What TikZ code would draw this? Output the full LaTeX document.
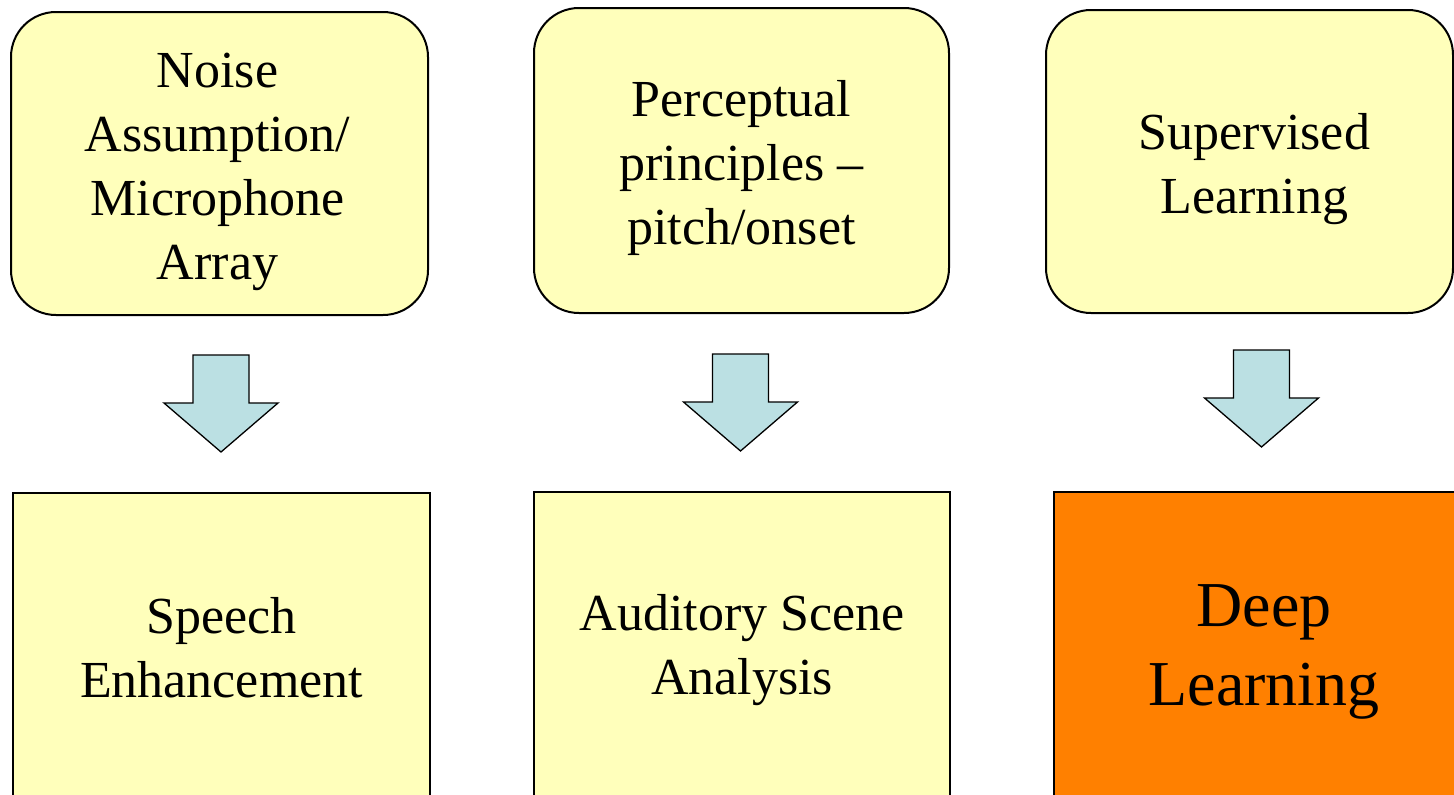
\documentclass[tikz,border=0pt]{standalone}
\usepackage{fontspec}
\setmainfont{Liberation Serif}
\definecolor{boxyellow}{HTML}{FFFFBB}
\definecolor{arrowblue}{HTML}{BBE0E3}
\definecolor{deeporange}{HTML}{FF8000}
\newcommand{\mainsz}{\fontsize{52}{64}\selectfont}
\newcommand{\bigsz}{\fontsize{64}{79}\selectfont}
\tikzset{
  basebox/.style={draw=black, line width=2pt, inner sep=0pt, outer sep=0pt},
  topbox/.style={basebox, fill=boxyellow, rounded corners=45pt},
  botbox/.style={basebox, fill=boxyellow},
  deepbox/.style={basebox, fill=deeporange},
  boxtext/.style={inner sep=0pt, align=center, font=\mainsz},
  bigtext/.style={inner sep=0pt, align=center, font=\bigsz},
  blockarrow/.style={draw=black, line width=1.3pt, fill=arrowblue, line join=miter},
  pics/downarrow/.style={code={
    \draw[blockarrow] (-28,0) -- (28,0) -- (28,48) -- (57,48) -- (0,97) -- (-57,48) -- (-28,48) -- cycle;
  }}
}
\begin{document}
\begin{tikzpicture}[x=1pt,y=-1pt]
\useasboundingbox (0,0) rectangle (1454,795);
\clip (0,0) rectangle (1454,795);
\fill[white] (0,0) rectangle (1454,795);
% top row
\node[topbox, minimum width=417pt, minimum height=303pt] (noise) at (219.5,163.5) {};
\node[boxtext, yshift=-8pt, xshift=-2pt] (noiset) at (noise.center) {Noise\\Assumption/\\Microphone\\Array};
\node[topbox, minimum width=415pt, minimum height=305pt] (percep) at (741.5,160.5) {};
\node[boxtext, yshift=-7pt] (percept) at (percep.center) {Perceptual\\principles --\\pitch/onset};
\node[topbox, minimum width=407pt, minimum height=303pt] (superv) at (1249.5,161.5) {};
\node[boxtext, yshift=-8pt, xshift=5pt] (supervt) at (superv.center) {Supervised\\Learning};
% bottom row
\node[botbox, minimum width=417pt, minimum height=310pt] (speech) at (221.5,648) {};
\node[boxtext] (speecht) at (speech.center) {Speech\\Enhancement};
\node[botbox, minimum width=416pt, minimum height=312pt] (casa) at (742,648) {};
\node[boxtext, yshift=-2pt] (casat) at (casa.center) {Auditory Scene\\Analysis};
\node[deepbox, minimum width=420pt, minimum height=312pt] (deep) at (1264,648) {};
\node[bigtext, yshift=-4pt] (deept) at (deep.center) {Deep\\Learning};
% block arrows
\pic at (221,355) {downarrow};
\pic at (740.5,354) {downarrow};
\pic at (1261.5,350) {downarrow};
\end{tikzpicture}
\end{document}
